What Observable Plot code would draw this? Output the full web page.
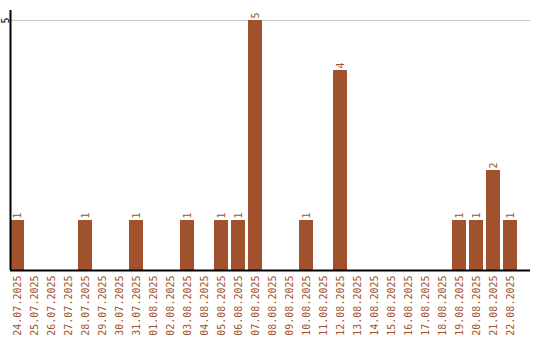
<!DOCTYPE html>
<html>
<head>
<meta charset="utf-8">
<script src="https://cdn.jsdelivr.net/npm/d3@7"></script>
<script src="https://cdn.jsdelivr.net/npm/@observablehq/plot@0.6"></script>
<style>
  html, body { margin: 0; padding: 0; background: #fff; }
  svg { display: block; }
</style>
</head>
<body>
<div id="chart"></div>
<script>
// Daily counts, 24.07.2025 – 22.08.2025
const dates = [
  "24.07.2025", "25.07.2025", "26.07.2025", "27.07.2025", "28.07.2025",
  "29.07.2025", "30.07.2025", "31.07.2025", "01.08.2025", "02.08.2025",
  "03.08.2025", "04.08.2025", "05.08.2025", "06.08.2025", "07.08.2025",
  "08.08.2025", "09.08.2025", "10.08.2025", "11.08.2025", "12.08.2025",
  "13.08.2025", "14.08.2025", "15.08.2025", "16.08.2025", "17.08.2025",
  "18.08.2025", "19.08.2025", "20.08.2025", "21.08.2025", "22.08.2025"
];
const counts = [
  1, 0, 0, 0, 1,
  0, 0, 1, 0, 0,
  1, 0, 1, 1, 5,
  0, 0, 1, 0, 4,
  0, 0, 0, 0, 0,
  0, 1, 1, 2, 1
];
const yTicks = [5];

const data = dates.map((d, i) => ({date: d, count: counts[i]}));
const nonZero = data.filter(d => d.count > 0);

const color = "#a0522d";
const font = "DejaVu Sans Mono";
const yMax = 5.2;

const chart = Plot.plot({
  width: 540,
  height: 340,
  marginLeft: 10,
  marginRight: 10,
  marginTop: 10,
  marginBottom: 70,
  style: {fontFamily: font, fontSize: "10px", background: "#fff"},
  x: {domain: dates, range: [10, 517], paddingInner: 3 / 17, paddingOuter: 0, align: 0},
  y: {domain: [0, yMax], range: [270, 10], axis: null},
  marks: [
    Plot.gridY(yTicks, {stroke: "#c8c8c8", strokeOpacity: 1}),
    Plot.barY(data, {x: "date", y: "count", fill: color, shapeRendering: "crispEdges"}),
    Plot.text(nonZero, {
      x: "date", y: "count", text: d => String(d.count),
      rotate: -90, textAnchor: "start", dy: -2,
      fill: color, fontSize: 10, fontFamily: font
    }),
    Plot.axisX({
      tickSize: 0, tickPadding: 5, tickRotate: -90, label: null,
      fill: color, fontSize: 10, fontFamily: font
    }),
    // y tick label, rotated, in the left margin
    Plot.text(yTicks, {
      y: d => d, frameAnchor: "left", dx: -5, rotate: -90,
      text: d => String(d), textAnchor: "middle", lineAnchor: "middle",
      fill: "#000", fontSize: 10, fontFamily: font
    }),
    // left axis line along the first band's left edge
    Plot.ruleX([dates[0]], {x: d => d, y1: 0, y2: yMax, dx: -7, stroke: "#000", strokeWidth: 2}),
    Plot.ruleY([0], {stroke: "#000", strokeWidth: 2})
  ]
});

document.getElementById("chart").appendChild(chart);
</script>
</body>
</html>
